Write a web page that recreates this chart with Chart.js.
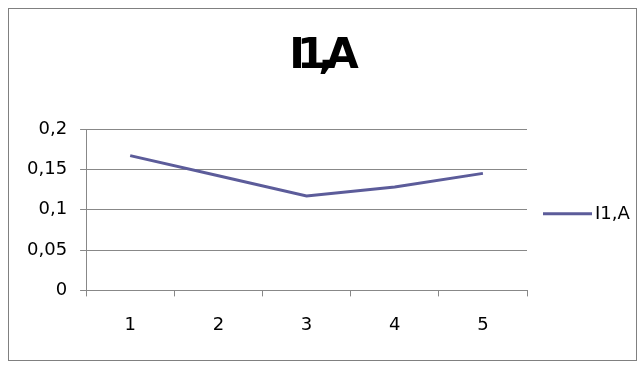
<!DOCTYPE html>
<html>
<head>
<meta charset="utf-8">
<script src="https://cdn.jsdelivr.net/npm/chart.js@4/dist/chart.umd.min.js"></script>
<style>
  body { margin: 0; background: #fff; }
  #wrap { position: relative; width: 644px; height: 368px; }
  #frame { position: absolute; left: 8px; top: 8px; width: 627px; height: 351px; border: 1px solid #808080; }
  #canvas { position: absolute; left: 0; top: 0; }
</style>
</head>
<body>
<div id="wrap">
  <div id="frame"></div>
  <canvas id="canvas" width="644" height="368"></canvas>
</div>
<script>
var chartTitle = "I1,A";
var seriesName = "I1,A";
var categories = ["1", "2", "3", "4", "5"];
var values = [0.167, 0.142, 0.117, 0.128, 0.145];
var yTicks = [0, 0.05, 0.1, 0.15, 0.2];

var lineColor = "#5c5c9a";
var gridColor = "#888888";

// title and legend drawn by hand so they sit like the original
var decorPlugin = {
	id: "decor",
	afterDraw: function(chart){
		var ctx = chart.ctx;
		var area = chart.chartArea;
		ctx.save();
		ctx.font = "bold 42px 'DejaVu Sans'";
		ctx.fillStyle = "#000";
		ctx.textBaseline = "alphabetic";
		ctx.textAlign = "left";
		if ("letterSpacing" in ctx) ctx.letterSpacing = "-8px";
		var w = ctx.measureText(chartTitle).width;
		ctx.fillText(chartTitle, 320 - w / 2, 68);
		if ("letterSpacing" in ctx) ctx.letterSpacing = "0px";

		// legend entry
		var ds = chart.data.datasets[0];
		var ly = (area.top + area.bottom) / 2 + 4;
		ctx.strokeStyle = ds.borderColor;
		ctx.lineWidth = ds.borderWidth;
		ctx.beginPath();
		ctx.moveTo(area.right + 16, ly);
		ctx.lineTo(area.right + 65, ly);
		ctx.stroke();
		ctx.font = "18px 'DejaVu Sans'";
		ctx.textBaseline = "middle";
		ctx.fillText(ds.label, area.right + 68, ly + 1);
		ctx.restore();
	}
};

var ctx = document.getElementById("canvas").getContext("2d");
var chart = new Chart(ctx, {
	type: "line",
	data: {
		labels: categories,
		datasets: [{
			label: seriesName,
			data: values,
			borderColor: lineColor,
			backgroundColor: lineColor,
			borderWidth: 3,
			pointRadius: 0,
			tension: 0,
			fill: false
		}]
	},
	options: {
		responsive: false,
		animation: false,
		layout: { padding: { top: 129, left: 14, right: 117, bottom: 14 } },
		plugins: {
			title: { display: false },
			tooltip: { enabled: false },
			legend: { display: false }
		},
		scales: {
			x: {
				offset: true,
				grid: { offset: true, drawOnChartArea: false, drawTicks: true, tickLength: 6, color: gridColor },
				border: { color: gridColor },
				ticks: { color: "#000", padding: 18, font: { family: "DejaVu Sans", size: 18 } }
			},
			y: {
				min: 0,
				max: 0.2,
				afterBuildTicks: function(axis){
					axis.ticks = yTicks.map(function(v){ return { value: v }; });
				},
				grid: { color: gridColor, tickLength: 6 },
				border: { color: gridColor },
				ticks: {
					color: "#000",
					padding: 13,
					font: { family: "DejaVu Sans", size: 18 },
					callback: function(v){
						return String(Number(v.toFixed(2))).replace(".", ",");
					}
				}
			}
		}
	},
	plugins: [decorPlugin]
});
</script>
</body>
</html>
